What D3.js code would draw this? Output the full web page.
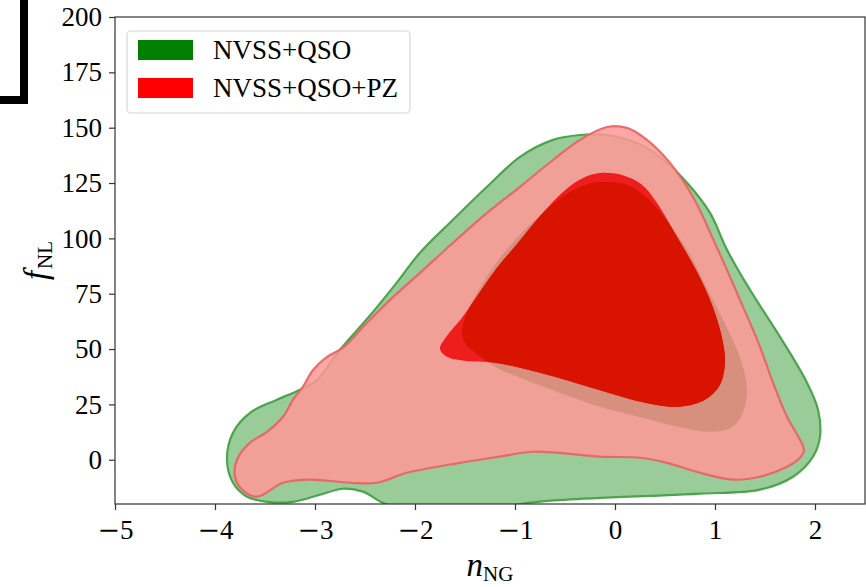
<!DOCTYPE html>
<html>
<head>
<meta charset="utf-8">
<script src="https://cdn.jsdelivr.net/npm/d3@7"></script>
<style>
  body { margin: 0; background: #fff; }
  text, tspan { font-family: "Liberation Serif", "DejaVu Serif", serif; fill: #000; }
  tspan.minus { font-family: "DejaVu Serif", serif; }
</style>
</head>
<body>
<svg></svg>
<script>
// contour outlines, [n_NG, f_NL]
var green2sigma = [[-3.88,0],[-3.82,12.2],[-3.65,21.2],[-3.38,27.1],[-3.15,31.6],[-2.98,36.1],[-2.75,49.7],
  [-2.47,64.1],[-2.20,79.0],[-1.95,93.5],[-1.62,108.4],[-1.28,123.3],[-0.95,136.8],[-0.62,144.5],[-0.35,146.7],
  [-0.08,146.7],[0.22,143.1],[0.45,136.8],[0.72,125.1],[0.95,111.5],[1.12,94.8],[1.35,76.7],[1.65,55.5],
  [1.92,34.8],[2.03,22.6],[2.05,10.4],[1.98,1.4],[1.78,-7.7],[1.45,-13.5],[0.85,-15.3],[0.35,-16.3],
  [-0.15,-17.2],[-0.65,-18.5],[-0.85,-19.4],[-1.35,-22.6],[-1.95,-22.6],[-2.30,-19.9],[-2.52,-14.4],
  [-2.72,-13.1],[-2.95,-15.8],[-3.22,-19.0],[-3.48,-19.0],[-3.68,-16.7],[-3.82,-10.4]];

var green1sigma = [[-1.53,57.3],[-1.50,64.1],[-1.42,72.2],[-1.27,83.5],[-1.07,95.7],[-0.80,108.4],[-0.50,119.6],
  [-0.27,124.6],[-0.10,125.5],[0.12,124.2],[0.32,118.3],[0.55,106.1],[0.75,92.6],[0.93,76.7],[1.08,63.2],
  [1.20,51.9],[1.28,42.0],[1.32,31.6],[1.29,22.6],[1.18,14.9],[0.95,12.6],[0.68,14.4],[0.35,18.1],
  [-0.15,23.9],[-0.55,30.2],[-0.90,36.1],[-1.18,41.5],[-1.37,47.4],[-1.49,51.9]];

var red2sigma = [[-3.78,0],[-3.65,7.7],[-3.48,12.6],[-3.32,19.4],[-3.22,27.1],[-3.12,33.0],[-3.02,40.6],
  [-2.88,46.5],[-2.72,50.6],[-2.50,60.9],[-2.25,72.2],[-1.95,84.4],[-1.62,98.0],[-1.28,111.5],[-0.95,123.3],
  [-0.62,135.4],[-0.35,144.5],[-0.08,150.3],[0.12,149.9],[0.32,144.5],[0.55,134.1],[0.78,118.7],[1.03,94.8],
  [1.25,72.2],[1.45,51.0],[1.58,34.8],[1.72,19.4],[1.85,9.0],[1.89,4.5],[1.85,0.9],[1.72,-3.2],[1.45,-7.7],
  [1.18,-9.0],[0.85,-5.9],[0.52,-1.4],[0.25,0.9],[-0.15,1.4],[-0.82,3.6],[-1.15,1.4],[-1.55,-1.4],
  [-2.08,-5.9],[-2.38,-10.4],[-2.65,-10.4],[-3.05,-9.0],[-3.32,-10.4],[-3.58,-16.7],[-3.73,-13.5],[-3.80,-7.7]];

var red1sigma = [[-1.75,50.1],[-1.68,56.0],[-1.53,64.1],[-1.37,74.5],[-1.18,86.7],[-0.97,98.0],[-0.73,111.1],
  [-0.52,121.0],[-0.32,127.3],[-0.12,129.6],[0.10,128.2],[0.27,124.2],[0.42,116.0],[0.62,100.7],[0.82,84.9],
  [0.97,70.0],[1.07,55.1],[1.10,44.2],[1.05,33.9],[0.90,27.1],[0.63,23.9],[0.30,25.7],[-0.10,30.7],
  [-0.50,36.1],[-0.87,40.6],[-1.20,43.8],[-1.50,44.7],[-1.68,46.5]];

var xTicks = [-5, -4, -3, -2, -1, 0, 1, 2];
var yTicks = [0, 25, 50, 75, 100, 125, 150, 175, 200];
var legendLabels = ['NVSS+QSO', 'NVSS+QSO+PZ'];
var legendColors = ['#008000', '#ff0000'];

var svgWidth = 866;
var svgHeight = 587;
var margin = { top: 17, right: 1, bottom: 83, left: 115 };
var serif = '"Liberation Serif", "DejaVu Serif", serif';

var svg = d3.select('svg')
  .attr('width', svgWidth)
  .attr('height', svgHeight);

var x = d3.scaleLinear()
  .domain([-5, 2.5])
  .range([margin.left, svgWidth - margin.right]);

var y = d3.scaleLinear()
  .domain([-20, 200])
  .range([svgHeight - margin.bottom, margin.top]);

// black bracket left over in the top corner
svg.append('path')
  .attr('d', 'M24,0 V100 H0')
  .attr('fill', 'none')
  .attr('stroke', '#000')
  .attr('stroke-width', 8)
  .attr('stroke-linejoin', 'miter');

svg.append('clipPath').attr('id', 'plotclip')
  .append('rect')
  .attr('x', x(-5)).attr('y', y(200))
  .attr('width', x(2.5) - x(-5)).attr('height', y(-20) - y(200));

var line = d3.line()
  .x(function(d) { return x(d[0]); })
  .y(function(d) { return y(d[1]); })
  .curve(d3.curveCatmullRomClosed.alpha(0.5));

var plot = svg.append('g').attr('clip-path', 'url(#plotclip)');

// green 2 sigma
plot.append('path')
  .attr('d', line(green2sigma))
  .attr('fill', '#99cc99')
  .attr('stroke', '#4ca44c')
  .attr('stroke-width', 2.2);

// red 2 sigma
plot.append('path')
  .attr('d', line(red2sigma))
  .attr('fill', 'rgb(255,152,150)')
  .attr('fill-opacity', 0.85)
  .attr('stroke', '#e86262')
  .attr('stroke-width', 2.2)
  .attr('stroke-opacity', 0.9);

// green 1 sigma seen through red
plot.append('path')
  .attr('d', line(green1sigma))
  .attr('fill', '#d8907e');

// red 1 sigma
plot.append('path')
  .attr('d', line(red1sigma))
  .attr('fill', '#ee1e1e');

// overlap of both 1 sigma regions
svg.append('clipPath').attr('id', 'red1clip')
  .append('path')
  .attr('d', line(red1sigma));

plot.append('g')
  .attr('clip-path', 'url(#red1clip)')
  .append('path')
  .attr('d', line(green1sigma))
  .attr('fill', '#d81400');

/* axes */
function minusLabels(g) {
  g.selectAll('.tick text').each(function(d) {
    var t = d3.select(this);
    t.text(null);
    if (d < 0) t.append('tspan').attr('class', 'minus').text('\u2212');
    t.append('tspan').text(Math.abs(d));
  });
}

var xAxis = g => g
  .attr('transform', 'translate(0,' + y(-20) + ')')
  .call(d3.axisBottom(x).tickValues(xTicks).tickSize(6).tickSizeOuter(0).tickPadding(10))
  .attr('font-family', serif)
  .attr('font-size', 27)
  .call(g => g.select('.domain').remove())
  .call(g => g.selectAll('.tick line').attr('stroke', '#333').attr('stroke-width', 1.2))
  .call(minusLabels);

var yAxis = g => g
  .attr('transform', 'translate(' + x(-5) + ',0)')
  .call(d3.axisLeft(y).tickValues(yTicks).tickSize(6).tickSizeOuter(0).tickPadding(7))
  .attr('font-family', serif)
  .attr('font-size', 27)
  .call(g => g.select('.domain').remove())
  .call(g => g.selectAll('.tick line').attr('stroke', '#333').attr('stroke-width', 1.2));

svg.append('g').call(xAxis);
svg.append('g').call(yAxis);

svg.append('rect')
  .attr('x', x(-5)).attr('y', y(200))
  .attr('width', x(2.5) - x(-5)).attr('height', y(-20) - y(200))
  .attr('fill', 'none')
  .attr('stroke', '#333')
  .attr('stroke-width', 1.2);

// axis titles
var xl = svg.append('text')
  .attr('x', (x(-5) + x(2.5)) / 2)
  .attr('y', 576)
  .attr('text-anchor', 'middle');
xl.append('tspan').attr('font-size', 33).attr('font-style', 'italic').text('n');
xl.append('tspan').attr('font-size', 21).attr('dy', 5).text('NG');

var yl = svg.append('text')
  .attr('transform', 'translate(47,' + (y(-20) + y(200)) / 2 + ') rotate(-90)')
  .attr('text-anchor', 'middle');
yl.append('tspan').attr('font-size', 33).attr('font-style', 'italic').text('f');
yl.append('tspan').attr('font-size', 21).attr('dy', 5).attr('dx', 2).text('NL');

/* legend */
var legend = svg.append('g');
legend.append('rect')
  .attr('x', 127).attr('y', 31)
  .attr('width', 283).attr('height', 82)
  .attr('rx', 4)
  .attr('fill', '#fff').attr('fill-opacity', 0.8)
  .attr('stroke', '#d6d6d6').attr('stroke-width', 1.2);

legendLabels.forEach(function(name, i) {
  legend.append('rect')
    .attr('x', 138).attr('y', 40 + i * 38)
    .attr('width', 55).attr('height', 20)
    .attr('fill', legendColors[i]);
  legend.append('text')
    .attr('x', 213).attr('y', 50 + i * 38)
    .attr('dy', '0.35em')
    .attr('font-size', 27)
    .text(name);
});
</script>
</body>
</html>
